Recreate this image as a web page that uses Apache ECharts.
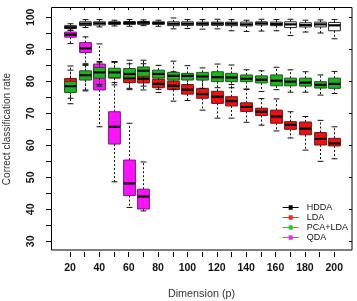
<!DOCTYPE html>
<html>
<head>
<meta charset="utf-8">
<script src="https://cdn.jsdelivr.net/npm/echarts@6/dist/echarts.min.js"></script>
<style>html,body{margin:0;padding:0;background:#fff;}#c{width:357px;height:301px;}</style>
</head>
<body>
<div id="c"></div>
<script>
// Categories (dimension p) and tick labels
const categories = ['20','30','40','50','60','70','80','90','100','110','120','130','140','150','160','170','180','190','200'];
const yTicks = [30, 40, 50, 60, 70, 80, 90, 100];

// Box statistics per category: [min, Q1, median, Q3, max]
const hddaValues = [
  [95.9, 96.5, 96.9, 97.4, 98.0],
  [96.8, 97.4, 98.0, 98.6, 99.3],
  [97.0, 97.6, 98.1, 98.6, 99.3],
  [97.3, 97.8, 98.2, 98.6, 99.1],
  [97.2, 97.8, 98.2, 98.7, 99.3],
  [97.4, 97.8, 98.3, 98.7, 99.2],
  [97.2, 97.8, 98.2, 98.6, 99.1],
  [96.4, 97.4, 98.0, 98.6, 99.8],
  [96.5, 97.5, 98.0, 98.6, 99.3],
  [96.3, 97.5, 98.0, 98.5, 99.3],
  [96.4, 97.5, 98.0, 98.5, 99.4],
  [95.8, 97.4, 98.0, 98.5, 99.3],
  [95.6, 97.3, 97.8, 98.5, 99.1],
  [95.7, 97.6, 98.1, 98.6, 99.4],
  [95.8, 97.4, 97.9, 98.5, 99.3],
  [94.3, 96.8, 97.8, 98.6, 99.4],
  [95.4, 97.0, 97.6, 98.3, 99.1],
  [95.1, 97.0, 97.8, 98.5, 99.2],
  [93.3, 95.8, 97.5, 98.4, 99.3]
];
const ldaValues = [
  [73.0, 77.0, 79.3, 80.9, 83.5],
  [77.3, 80.6, 81.8, 83.0, 85.0],
  [78.5, 81.2, 82.4, 83.8, 85.8],
  [78.9, 81.0, 82.0, 83.2, 86.0],
  [77.4, 79.6, 81.0, 82.4, 85.5],
  [77.3, 79.5, 80.8, 82.5, 85.5],
  [76.5, 78.0, 79.2, 80.7, 83.0],
  [73.8, 77.4, 78.6, 80.1, 83.0],
  [74.0, 76.0, 77.4, 79.0, 81.5],
  [71.0, 74.7, 76.0, 77.8, 80.5],
  [68.5, 73.1, 75.2, 76.9, 80.5],
  [68.5, 72.3, 73.8, 75.2, 79.0],
  [67.2, 70.6, 72.0, 73.3, 77.5],
  [66.3, 69.3, 70.5, 71.6, 74.6],
  [64.5, 66.9, 69.0, 71.0, 74.5],
  [62.3, 65.0, 66.4, 67.4, 70.5],
  [58.5, 63.3, 65.2, 67.3, 69.0],
  [55.0, 60.1, 62.0, 64.0, 67.8],
  [55.8, 59.8, 60.6, 62.2, 65.8]
];
const pcaLdaValues = [
  [74.7, 76.5, 78.5, 79.9, 84.8],
  [77.0, 80.4, 81.9, 83.3, 85.5],
  [79.0, 81.0, 82.8, 84.3, 86.2],
  [79.6, 81.2, 82.8, 84.1, 86.2],
  [77.8, 81.3, 82.3, 84.0, 86.6],
  [78.5, 81.6, 83.3, 84.5, 86.6],
  [77.5, 81.0, 82.3, 83.5, 85.0],
  [77.5, 80.4, 81.7, 82.8, 86.3],
  [77.5, 80.4, 81.7, 82.5, 84.9],
  [77.8, 80.4, 81.5, 82.8, 84.2],
  [78.0, 79.9, 81.3, 83.0, 85.4],
  [78.0, 79.9, 81.2, 82.5, 85.1],
  [77.6, 79.9, 80.8, 82.0, 83.6],
  [76.8, 79.5, 80.5, 81.7, 83.3],
  [77.4, 78.6, 80.2, 82.0, 84.4],
  [76.6, 78.6, 79.9, 81.0, 83.6],
  [76.6, 78.5, 79.6, 81.0, 83.0],
  [75.7, 77.9, 78.9, 79.9, 82.0],
  [76.2, 77.8, 79.2, 81.0, 83.1]
];
const qdaValues = [
  [91.8, 93.8, 94.6, 95.4, 96.0],
  [85.2, 89.0, 90.3, 92.1, 93.9],
  [65.8, 77.3, 81.5, 85.4, 91.7],
  [48.6, 60.4, 65.8, 70.5, 86.0],
  [40.6, 44.3, 48.1, 55.4, 66.9],
  [39.5, 40.1, 44.0, 46.3, 54.8]
];

function toRows(vals) {
  return vals.map(function (v, i) { return [i].concat(v); });
}

function makeRender(fill, stroke) {
  return function (params, api) {
    const idx = api.value(0);
    const lo = api.coord([idx, api.value(1)]);
    const q1 = api.coord([idx, api.value(2)]);
    const md = api.coord([idx, api.value(3)]);
    const q3 = api.coord([idx, api.value(4)]);
    const hi = api.coord([idx, api.value(5)]);
    const band = api.size([1, 0])[0];
    const bw = band * 0.8;
    const cw = bw / 2;
    const cx = Math.round(lo[0]) + 0.5;
    const dash = { stroke: '#111', lineWidth: 1, lineDash: [2, 2] };
    const solid = { stroke: '#111', lineWidth: 1 };
    return {
      type: 'group',
      children: [
        { type: 'line', shape: { x1: cx, y1: q3[1], x2: cx, y2: hi[1] }, style: dash },
        { type: 'line', shape: { x1: cx, y1: q1[1], x2: cx, y2: lo[1] }, style: dash },
        { type: 'line', shape: { x1: cx - cw / 2, y1: hi[1], x2: cx + cw / 2, y2: hi[1] }, style: solid },
        { type: 'line', shape: { x1: cx - cw / 2, y1: lo[1], x2: cx + cw / 2, y2: lo[1] }, style: solid },
        { type: 'rect', shape: { x: cx - bw / 2, y: q3[1], width: bw, height: q1[1] - q3[1] },
          style: { fill: fill, stroke: stroke, lineWidth: 1 } },
        { type: 'line', shape: { x1: cx - bw / 2, y1: md[1], x2: cx + bw / 2, y2: md[1] },
          style: { stroke: '#000', lineWidth: 2.2 } }
      ]
    };
  };
}

const chart = echarts.init(document.getElementById('c'), null, { renderer: 'canvas' });
const FONT = 'Liberation Sans';
const gridLeft = 62.66, gridTop = 17.33, gridRight = 15.4, gridBottom = 59.67;

const option = {
  animation: false,
  backgroundColor: '#fff',
  textStyle: { fontFamily: FONT },
  grid: { left: gridLeft, top: gridTop, right: gridRight, bottom: gridBottom, containLabel: false },
  xAxis: [
    {
      type: 'category', data: categories, boundaryGap: true, position: 'bottom', offset: 10.67,
      axisLine: { show: false },
      axisTick: { show: true, alignWithLabel: true, interval: 0, length: 5, lineStyle: { color: '#000' } },
      axisLabel: { interval: 1, margin: 11, fontSize: 10.5, fontWeight: 'bold', color: '#111', fontFamily: FONT },
      splitLine: { show: false }
    },
    {
      type: 'category', data: categories, boundaryGap: true, position: 'top', offset: 10.33,
      axisLine: { show: false },
      axisTick: { show: true, alignWithLabel: true, interval: 0, inside: true, length: 3, lineStyle: { color: '#000' } },
      axisLabel: { show: false },
      splitLine: { show: false }
    }
  ],
  yAxis: [
    {
      type: 'value', min: 30, max: 100, interval: 5, position: 'left', offset: gridLeft - 51,
      axisLine: { show: false },
      axisTick: { show: true, length: 5, lineStyle: { color: '#000' } },
      axisLabel: { show: false },
      splitLine: { show: false }
    },
    {
      type: 'value', min: 30, max: 100, interval: 10, position: 'right', offset: 352 - (357 - gridRight),
      axisLine: { show: false },
      axisTick: { show: true, inside: true, length: 3, lineStyle: { color: '#000' } },
      axisLabel: { show: false },
      splitLine: { show: false }
    }
  ],
  legend: {
    orient: 'vertical', left: 277.7, top: 197.5,
    itemWidth: 16, itemHeight: 6, itemGap: 0,
    icon: 'path://M0,2.5L16,2.5L16,3.3L0,3.3Z M6,0.7L10,0.7L10,5.1L6,5.1Z',
    textStyle: { fontSize: 9, lineHeight: 10, color: '#111', fontFamily: FONT, padding: [0, 0, 0, 3] },
    data: [
      { name: 'HDDA', itemStyle: { color: '#000' } },
      { name: 'LDA', itemStyle: { color: '#F22' } },
      { name: 'PCA+LDA', itemStyle: { color: '#2C2' } },
      { name: 'QDA', itemStyle: { color: '#F2F' } }
    ]
  },
  series: [
    { name: 'QDA', type: 'custom', xAxisIndex: 0, yAxisIndex: 0, itemStyle: { color: '#F2F' },
      renderItem: makeRender('#FF10FF', '#7A147A'), data: toRows(qdaValues),
      encode: { x: 0, y: [1, 2, 3, 4, 5] }, z: 1 },
    { name: 'LDA', type: 'custom', xAxisIndex: 0, yAxisIndex: 0, itemStyle: { color: '#F22' },
      renderItem: makeRender('#EE1111', '#7A1010'), data: toRows(ldaValues),
      encode: { x: 0, y: [1, 2, 3, 4, 5] }, z: 2 },
    { name: 'PCA+LDA', type: 'custom', xAxisIndex: 0, yAxisIndex: 0, itemStyle: { color: '#2C2' },
      renderItem: makeRender('#1FB41F', '#1A5A1A'), data: toRows(pcaLdaValues),
      encode: { x: 0, y: [1, 2, 3, 4, 5] }, z: 3 },
    { name: 'HDDA', type: 'custom', xAxisIndex: 0, yAxisIndex: 0, itemStyle: { color: '#000' },
      renderItem: makeRender('#FFFFFF', '#222'), data: toRows(hddaValues),
      encode: { x: 0, y: [1, 2, 3, 4, 5] }, z: 4 }
  ]
};
chart.setOption(option);

// Y tick labels, rotated like the axis title, positioned through the axis scale
const yLabelTexts = yTicks.map(function (v) {
  return {
    type: 'text', x: 0, y: 0,
    style: { text: String(v), fontSize: 10.5, fontWeight: 'bold', fontFamily: FONT, fill: '#111',
             textAlign: 'center', textVerticalAlign: 'middle' },
    position: [0, 0]
  };
});
const graphics = [
  { type: 'rect', shape: { x: 51.5, y: 7.5, width: 300.5, height: 242.5 },
    style: { fill: 'none', stroke: '#000', lineWidth: 1 }, z: 100, silent: true },
  { type: 'text', x: 7, y: 129, rotation: Math.PI / 2,
    style: { text: 'Correct classification rate', fontSize: 10, fontFamily: FONT, fill: '#333',
             textAlign: 'center', textVerticalAlign: 'middle' } },
  { type: 'text', x: 201.5, y: 294,
    style: { text: 'Dimension (p)', fontSize: 10.8, fontFamily: FONT, fill: '#333',
             textAlign: 'center', textVerticalAlign: 'middle' } }
];
yTicks.forEach(function (v) {
  const py = chart.convertToPixel({ yAxisIndex: 0 }, v);
  graphics.push({
    type: 'group', x: 31.5, y: py, rotation: Math.PI / 2,
    children: [{
      type: 'text', x: 0, y: 0,
      style: { text: String(v), fontSize: 10.5, fontWeight: 'bold', fontFamily: FONT, fill: '#111',
               textAlign: 'center', textVerticalAlign: 'middle' }
    }]
  });
});
chart.setOption({ graphic: graphics });
</script>
</body>
</html>
